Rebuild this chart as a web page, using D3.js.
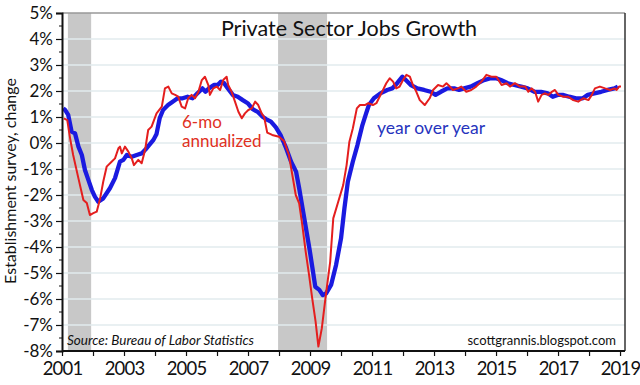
<!DOCTYPE html>
<html>
<head>
<meta charset="utf-8">
<script src="https://cdn.jsdelivr.net/npm/d3@7"></script>
<style>
  body { margin: 0; background: #fff; }
  svg { display: block; font-family: Lato, "Open Sans", sans-serif; }
</style>
</head>
<body>
<svg></svg>
<script>
let width = 640, height = 385;

// recession periods (decimal years)
let recessions = [[2001.19, 2001.94], [2007.97, 2009.55]];

// year over year, [decimal year, % change]
let yoy = [
  [2001.04, 1.33], [2001.10, 1.27], [2001.20, 1.08], [2001.31, 0.44], [2001.42, 0.37],
  [2001.53, -0.14], [2001.64, -0.46], [2001.74, -1.04], [2001.85, -1.42], [2001.96, -1.80],
  [2002.06, -2.06], [2002.17, -2.26], [2002.33, -2.13], [2002.55, -1.73], [2002.71, -1.35],
  [2002.87, -0.72], [2002.98, -0.65], [2003.09, -0.46], [2003.25, -0.53], [2003.41, -0.46],
  [2003.57, -0.40], [2003.73, -0.20], [2003.95, 0.12], [2004.05, 0.35], [2004.15, 0.95],
  [2004.26, 1.27], [2004.42, 1.46], [2004.57, 1.59], [2004.73, 1.72], [2004.89, 1.72],
  [2005.05, 1.78], [2005.21, 1.72], [2005.37, 1.91], [2005.53, 2.10], [2005.63, 1.97],
  [2005.74, 2.10], [2005.90, 2.23], [2006.02, 2.23], [2006.13, 2.36], [2006.23, 2.30],
  [2006.35, 2.10], [2006.51, 1.85], [2006.67, 1.78], [2006.83, 1.65], [2006.99, 1.53],
  [2007.15, 1.30], [2007.31, 1.20], [2007.47, 1.01], [2007.58, 0.92], [2007.74, 0.82],
  [2007.90, 0.60], [2008.06, 0.28], [2008.23, -0.20], [2008.39, -0.72], [2008.55, -1.10],
  [2008.65, -1.74], [2008.76, -2.51], [2008.87, -3.28], [2008.98, -4.05], [2009.08, -4.82],
  [2009.17, -5.53], [2009.30, -5.65], [2009.41, -5.85], [2009.52, -5.78], [2009.68, -5.46],
  [2009.84, -4.69], [2010.00, -3.67], [2010.11, -2.51], [2010.22, -1.49], [2010.38, -0.72],
  [2010.53, -0.08], [2010.69, 0.69], [2010.81, 1.14], [2010.90, 1.46], [2011.06, 1.72],
  [2011.27, 1.91], [2011.49, 2.04], [2011.65, 2.10], [2011.81, 2.30], [2011.98, 2.55],
  [2012.09, 2.42], [2012.25, 2.23], [2012.46, 2.10], [2012.68, 2.04], [2012.89, 1.97],
  [2013.05, 1.85], [2013.22, 1.97], [2013.43, 2.10], [2013.65, 2.10], [2013.81, 2.04],
  [2013.97, 2.10], [2014.18, 2.17], [2014.40, 2.30], [2014.61, 2.42], [2014.83, 2.49],
  [2015.00, 2.49], [2015.16, 2.42], [2015.38, 2.30], [2015.59, 2.23], [2015.81, 2.17],
  [2016.02, 2.10], [2016.24, 1.97], [2016.45, 1.97], [2016.67, 1.91], [2016.83, 1.78],
  [2016.99, 1.85], [2017.15, 1.85], [2017.36, 1.78], [2017.58, 1.72], [2017.80, 1.72],
  [2017.96, 1.85], [2018.17, 1.91], [2018.39, 1.97], [2018.60, 2.04], [2018.82, 2.10],
  [2018.93, 2.17]
];

// 6-month annualized, [decimal year, % change]
let sixMo = [
  [2001.06, 0.95], [2001.17, 0.88], [2001.26, 0.19], [2001.36, -0.46], [2001.53, -1.36],
  [2001.69, -2.19], [2001.80, -2.31], [2001.90, -2.77], [2002.01, -2.70], [2002.12, -2.64],
  [2002.23, -2.13], [2002.33, -1.49], [2002.44, -0.91], [2002.60, -0.72], [2002.71, -0.59],
  [2002.82, -0.20], [2002.87, -0.14], [2002.93, -0.40], [2003.03, -0.14], [2003.14, -0.33],
  [2003.25, -0.59], [2003.32, -0.85], [2003.46, -0.65], [2003.57, -0.78], [2003.68, -0.27],
  [2003.78, 0.50], [2003.89, 0.63], [2004.05, 1.14], [2004.22, 1.40], [2004.32, 2.10],
  [2004.43, 2.17], [2004.54, 1.91], [2004.65, 1.85], [2004.75, 1.78], [2004.86, 1.40],
  [2004.97, 1.33], [2005.07, 1.72], [2005.18, 1.85], [2005.29, 1.72], [2005.40, 1.97],
  [2005.51, 2.42], [2005.61, 2.55], [2005.72, 2.23], [2005.77, 1.85], [2005.88, 2.10],
  [2005.99, 2.17], [2006.10, 2.04], [2006.20, 2.42], [2006.31, 2.55], [2006.36, 2.23],
  [2006.47, 1.97], [2006.58, 1.59], [2006.69, 1.20], [2006.80, 0.95], [2006.90, 1.14],
  [2007.01, 1.27], [2007.12, 1.33], [2007.23, 1.59], [2007.33, 1.46], [2007.44, 1.14],
  [2007.52, 1.00], [2007.62, 0.40], [2007.78, 0.31], [2008.00, 0.24], [2008.16, 0.08],
  [2008.32, -0.46], [2008.43, -1.23], [2008.54, -2.00], [2008.65, -2.32], [2008.75, -3.15],
  [2008.86, -4.18], [2008.97, -5.08], [2009.07, -5.97], [2009.18, -6.87], [2009.27, -7.83],
  [2009.38, -7.13], [2009.51, -5.85], [2009.65, -4.57], [2009.75, -2.90], [2009.91, -2.26],
  [2010.07, -1.62], [2010.18, -0.85], [2010.27, 0.05], [2010.38, 0.56], [2010.51, 1.33],
  [2010.61, 1.46], [2010.77, 1.46], [2010.88, 1.53], [2011.03, 1.46], [2011.14, 1.53],
  [2011.30, 1.91], [2011.46, 2.30], [2011.57, 2.49], [2011.68, 2.36], [2011.78, 2.10],
  [2011.89, 2.17], [2012.00, 2.42], [2012.11, 2.62], [2012.22, 2.55], [2012.32, 2.23],
  [2012.43, 1.97], [2012.54, 1.65], [2012.70, 1.46], [2012.86, 1.72], [2012.97, 2.04],
  [2013.13, 2.23], [2013.29, 2.17], [2013.40, 2.30], [2013.51, 2.17], [2013.61, 2.04],
  [2013.77, 2.10], [2013.88, 2.17], [2014.04, 1.97], [2014.20, 2.04], [2014.36, 2.17],
  [2014.53, 2.36], [2014.69, 2.62], [2014.85, 2.55], [2015.01, 2.55], [2015.18, 2.23],
  [2015.34, 2.30], [2015.45, 2.17], [2015.61, 2.30], [2015.77, 2.17], [2015.94, 2.17],
  [2016.04, 1.97], [2016.15, 2.10], [2016.26, 1.97], [2016.36, 1.59], [2016.47, 1.85],
  [2016.58, 1.91], [2016.69, 1.85], [2016.80, 1.97], [2016.90, 2.04], [2017.01, 1.85],
  [2017.17, 1.78], [2017.33, 1.78], [2017.49, 1.65], [2017.65, 1.59], [2017.82, 1.72],
  [2017.98, 1.65], [2018.09, 1.85], [2018.19, 2.10], [2018.35, 2.17], [2018.52, 2.10],
  [2018.68, 2.04], [2018.82, 2.10], [2018.89, 2.04], [2018.97, 2.17], [2019.03, 2.17]
];

let yearTicks = d3.range(2001, 2020);          // one tick per year
let yearLabels = d3.range(2001, 2020, 2);      // labelled odd years
let pctTicks = d3.range(-8, 6);                // -8% .. 5%
let pctMinor = d3.range(-7.5, 5, 1);

let svg = d3.select("svg")
    .attr("width", width)
    .attr("height", height);

let x = d3.scaleLinear().domain([2001, 2019.16]).range([62, 625]);
let y = d3.scaleLinear().domain([-8, 5]).range([351, 13]);

// recession shading
svg.append("g")
    .selectAll("rect")
    .data(recessions)
    .enter()
    .append("rect")
        .attr("x", d => x(d[0]))
        .attr("width", d => x(d[1]) - x(d[0]))
        .attr("y", y(5))
        .attr("height", y(-8) - y(5))
        .attr("fill", "#c8c8c8");

// horizontal grid
svg.append("g")
    .selectAll("line")
    .data(pctTicks.filter(v => v > -8 && v < 5))
    .enter()
    .append("line")
        .attr("x1", x(2001)).attr("x2", 625)
        .attr("y1", d => y(d)).attr("y2", d => y(d))
        .attr("stroke", "#e2ebee")
        .attr("stroke-width", 1.5);

// frame: top and right
svg.append("line")
    .attr("x1", x(2001)).attr("x2", 625).attr("y1", y(5)).attr("y2", y(5))
    .attr("stroke", "#999").attr("stroke-width", 1.5);
svg.append("line")
    .attr("x1", 625).attr("x2", 625).attr("y1", y(5)).attr("y2", y(-8))
    .attr("stroke", "#333").attr("stroke-width", 1.5);

// lines
let line = d3.line()
    .x(d => x(d[0]))
    .y(d => y(d[1]))
    .curve(d3.curveLinear);

svg.append("path")
    .datum(yoy)
    .attr("d", line)
    .attr("fill", "none")
    .attr("stroke", "#1a1ae0")
    .attr("stroke-width", 4.3)
    .attr("stroke-linejoin", "round");

svg.append("path")
    .datum(sixMo)
    .attr("d", line)
    .attr("fill", "none")
    .attr("stroke", "#e41e1e")
    .attr("stroke-width", 2)
    .attr("stroke-linejoin", "round");

// y axis
let yAxis = svg.append("g")
    .attr("transform", "translate(" + x(2001) + ",0)")
    .call(d3.axisLeft(y).tickValues(pctTicks).tickSize(6).tickFormat(d => d + "%"));
yAxis.select(".domain").attr("stroke", "#111").attr("stroke-width", 2);
yAxis.selectAll(".tick line").attr("stroke", "#111").attr("stroke-width", 1.2);
yAxis.selectAll(".tick text")
    .attr("x", -9)
    .attr("font-size", 17)
    .attr("font-family", "Lato, sans-serif")
    .attr("fill", "#111");

svg.append("g")
    .selectAll("line")
    .data(pctMinor)
    .enter()
    .append("line")
        .attr("x1", x(2001) - 3).attr("x2", x(2001))
        .attr("y1", d => y(d)).attr("y2", d => y(d))
        .attr("stroke", "#111");

// x axis
let xAxis = svg.append("g")
    .attr("transform", "translate(0," + y(-8) + ")")
    .call(d3.axisBottom(x).tickValues(yearTicks).tickSize(5)
        .tickFormat(d => yearLabels.includes(d) ? d : ""));
xAxis.select(".domain").attr("stroke", "#111").attr("stroke-width", 2)
    .attr("d", "M" + x(2001) + ",0H625");
xAxis.selectAll(".tick line").attr("stroke", "#111").attr("stroke-width", 1.2);
xAxis.selectAll(".tick text")
    .attr("y", 11)
    .attr("font-size", 18.5)
    .attr("letter-spacing", "-0.8px")
    .attr("font-family", "Lato, sans-serif")
    .attr("fill", "#111");

// y axis title
svg.append("text")
    .attr("transform", "translate(16,181) rotate(-90)")
    .attr("text-anchor", "middle")
    .attr("font-size", 16)
    .attr("fill", "#111")
    .text("Establishment survey, change");

// title
svg.append("text")
    .attr("x", 349).attr("y", 36)
    .attr("text-anchor", "middle")
    .attr("font-size", 21.5)
    .attr("fill", "#111")
    .text("Private Sector Jobs Growth");

// series labels
let red = svg.append("text")
    .attr("x", 182).attr("y", 128)
    .attr("font-size", 17)
    .attr("fill", "#e0301e");
red.append("tspan").attr("x", 182).text("6-mo");
red.append("tspan").attr("x", 182).attr("dy", 19).text("annualized");

svg.append("text")
    .attr("x", 377).attr("y", 134)
    .attr("font-size", 17.5)
    .attr("fill", "#2633bd")
    .text("year over year");

// notes
svg.append("text")
    .attr("x", 67).attr("y", 345)
    .attr("font-size", 13.5)
    .attr("font-style", "italic")
    .attr("fill", "#111")
    .text("Source: Bureau of Labor Statistics");

svg.append("text")
    .attr("x", 616).attr("y", 345)
    .attr("text-anchor", "end")
    .attr("font-size", 13)
    .attr("fill", "#111")
    .text("scottgrannis.blogspot.com");
</script>
</body>
</html>
